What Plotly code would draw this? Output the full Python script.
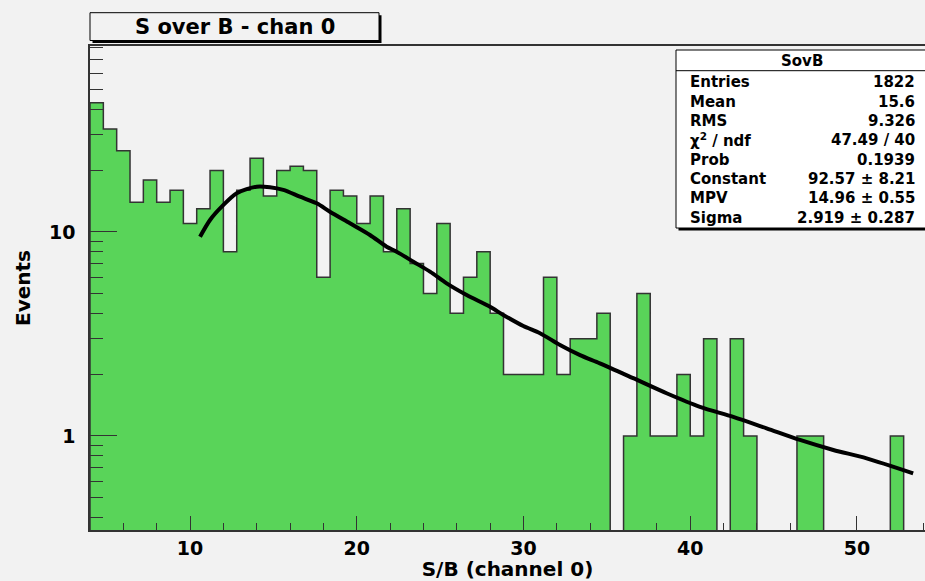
import numpy as np
import plotly.graph_objects as go

# ---------------- data ----------------
bin_start = 4.0
bin_width = 0.8
counts = [43, 32, 25, 14, 18, 14, 16, 11,
          13, 20, 8, 16, 23, 15, 20, 21,
          20, 6, 16, 15, 11, 15, 8, 13,
          7, 5, 11, 4, 6, 8, 4, 2,
          2, 2, 6, 2, 3, 3, 4, 0,
          1, 5, 1, 1, 2, 1, 3, 0,
          3, 1, 0, 0, 0, 1, 1, 0,
          0, 0, 0, 0, 1, 0, 0]

fit_x = [10.60, 11.20, 11.90, 12.80, 14.00, 14.79, 15.59, 16.59, 17.60, 18.39,
         19.59, 20.79, 21.79, 22.39, 23.39, 24.39, 25.39, 26.59, 27.99, 28.79,
         29.99, 30.99, 32.19, 33.39, 34.58, 36.58, 38.58, 40.58, 42.58, 44.58,
         46.58, 48.58, 50.58, 53.37]
fit_y = [9.48, 11.45, 13.30, 15.48, 16.67, 16.56, 16.07, 14.89, 13.82, 12.57,
         11.03, 9.67, 8.47, 8.01, 7.15, 6.39, 5.60, 4.91, 4.30, 3.92,
         3.46, 3.19, 2.79, 2.49, 2.27, 1.92, 1.62, 1.39, 1.24, 1.09,
         0.956, 0.854, 0.777, 0.656]

x_major_ticks = [10, 20, 30, 40, 50]
y_major_ticks = [1, 10]
y_major_text = ["1", "10"]
y_minor_ticks = [0.4, 0.5, 0.6, 0.7, 0.8, 0.9, 2, 3, 4, 5, 6, 7, 8, 9,
                 20, 30, 40, 50, 60, 70, 80]

stat_title = "SovB"
stat_labels = ["Entries", "Mean", "RMS", "χ<sup>2</sup> / ndf", "Prob",
               "Constant", "MPV", "Sigma"]
stat_values = ["1822", "15.6", "9.326", "47.49 / 40", "0.1939",
               "92.57 ± 8.21", "14.96 ± 0.55", "2.919 ± 0.287"]

title_text = "S over B - chan 0"
x_title = "S/B (channel 0)"
y_title = "Events"

# ---------------- styling ----------------
W, H = 925, 581
ML, MR, MT, MB = 90, 0, 46, 51
BG = "#f2f2f2"
GREEN = "#59d459"
EDGE = "#333333"
FONT = "DejaVu Sans"

x_range = [4.0, 54.08]
y_range = [np.log10(0.346), np.log10(81.6)]
y_floor = 10 ** (y_range[0] - 1.0)

pw, ph = W - ML - MR, H - MT - MB


def pxx(px):
    return (px - ML) / pw


def pxy(py):
    return (H - MB - py) / ph


# ---------------- histogram polygon ----------------
counts_arr = np.array(counts, dtype=float)
n = len(counts_arr)
edges = bin_start + bin_width * np.arange(n + 1)
vals = np.where(counts_arr > 0, counts_arr, y_floor)
hx = np.concatenate([[edges[0]], edges[:-1], [edges[-1], edges[-1]]])
hy = np.concatenate([[y_floor], vals, [vals[-1], y_floor]])

fig = go.Figure()
fig.add_trace(go.Scatter(
    x=hx, y=hy, mode="lines", line=dict(shape="hv", color=EDGE, width=1.5),
    fill="toself", fillcolor=GREEN, hoverinfo="skip"))
fig.add_trace(go.Scatter(
    x=fit_x, y=fit_y, mode="lines",
    line=dict(color="black", width=4, shape="spline", smoothing=0.8)))

tickfont = dict(family=FONT, size=19, color="black", weight="bold")

fig.update_layout(
    width=W, height=H, showlegend=False,
    margin=dict(l=ML, r=MR, t=MT, b=MB, pad=0),
    paper_bgcolor=BG, plot_bgcolor=BG,
    xaxis=dict(range=x_range, showgrid=False, zeroline=False,
               showline=True, linecolor=EDGE, linewidth=1.5, mirror=True,
               ticks="inside", ticklen=14, tickwidth=1, tickcolor=EDGE,
               tickmode="array", tickvals=x_major_ticks,
               minor=dict(ticks="inside", ticklen=7, dtick=2, tick0=0,
                          tickcolor=EDGE, tickwidth=1, showgrid=False),
               tickfont=tickfont, ticklabelstandoff=0,
               title=dict(text=x_title, standoff=6,
                          font=dict(family=FONT, size=20, color="black",
                                    weight="bold"))),
    yaxis=dict(type="log", range=y_range, showgrid=False, zeroline=False,
               showline=True, linecolor=EDGE, linewidth=1.5,
               ticks="inside", ticklen=27, tickwidth=1, tickcolor=EDGE,
               tickmode="array", tickvals=y_major_ticks, ticktext=y_major_text,
               minor=dict(ticks="inside", ticklen=13, tickmode="array",
                          tickvals=y_minor_ticks, tickcolor=EDGE, tickwidth=1,
                          showgrid=False),
               tickfont=tickfont, ticklabelstandoff=9,
               title=dict(text=y_title, standoff=13,
                          font=dict(family=FONT, size=20, color="black",
                                    weight="bold"))),
)

shapes = []
# title box (shadow + box)
tb = (90, 12.7, 379, 40.5)
sh = 2.5
shapes.append(dict(type="rect", xref="paper", yref="paper",
                   x0=pxx(tb[0] + sh), x1=pxx(tb[2] + sh),
                   y0=pxy(tb[1] + sh), y1=pxy(tb[3] + sh),
                   fillcolor="black", line=dict(width=0)))
shapes.append(dict(type="rect", xref="paper", yref="paper",
                   x0=pxx(tb[0]), x1=pxx(tb[2]), y0=pxy(tb[1]), y1=pxy(tb[3]),
                   fillcolor=BG, line=dict(color="black", width=1)))
# stats box
sb = (676, 50, 926, 228)
shapes.append(dict(type="rect", xref="paper", yref="paper",
                   x0=pxx(sb[0] + sh), x1=pxx(sb[2] + sh),
                   y0=pxy(sb[1] + sh), y1=pxy(sb[3] + sh),
                   fillcolor="black", line=dict(width=0)))
shapes.append(dict(type="rect", xref="paper", yref="paper",
                   x0=pxx(sb[0]), x1=pxx(sb[2]), y0=pxy(sb[1]), y1=pxy(sb[3]),
                   fillcolor="white", line=dict(color="black", width=1)))
shapes.append(dict(type="line", xref="paper", yref="paper",
                   x0=pxx(sb[0]), x1=pxx(sb[2]), y0=pxy(70.7), y1=pxy(70.7),
                   line=dict(color="black", width=1)))
fig.update_layout(shapes=shapes)

ann = []
ann.append(dict(text=title_text, xref="paper", yref="paper",
                x=pxx((tb[0] + tb[2]) / 2), y=pxy((tb[1] + tb[3]) / 2),
                xanchor="center", yanchor="middle", showarrow=False,
                font=dict(family=FONT, size=21, color="black", weight="bold")))
sfont = dict(family=FONT, size=15, color="black", weight="bold")
ann.append(dict(text=stat_title, xref="paper", yref="paper",
                x=pxx(801.5), y=pxy(61), xanchor="center", yanchor="middle",
                showarrow=False, font=sfont))
row_y0, row_dy = 82.3, 19.35
for i, (lab, val) in enumerate(zip(stat_labels, stat_values)):
    yy = pxy(row_y0 + i * row_dy)
    ann.append(dict(text=lab, xref="paper", yref="paper", x=pxx(688), y=yy,
                    xanchor="left", yanchor="middle", showarrow=False,
                    font=sfont))
    ann.append(dict(text=val, xref="paper", yref="paper", x=pxx(917), y=yy,
                    xanchor="right", yanchor="middle", showarrow=False,
                    font=sfont))
fig.update_layout(annotations=ann)

fig.write_html("out.html")
